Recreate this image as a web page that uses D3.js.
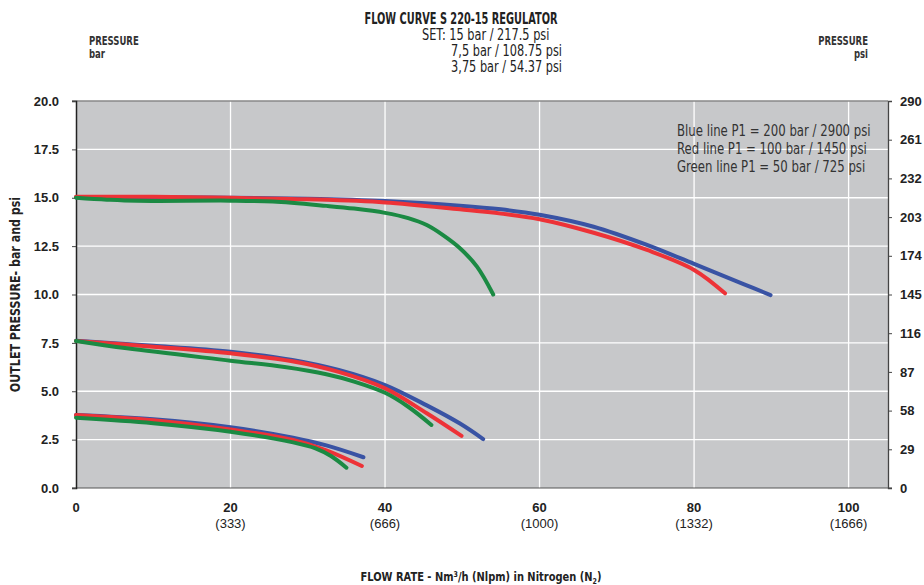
<!DOCTYPE html>
<html>
<head>
<meta charset="utf-8">
<script src="https://cdn.jsdelivr.net/npm/d3@7"></script>
<style>
  body { margin: 0; background: #fff; }
  .cond { font-family: "DejaVu Sans Condensed", "Liberation Sans Narrow", sans-serif; }
  .tick-b { font-family: "Liberation Sans", Arial, sans-serif; font-weight: bold; font-size: 13px; fill: #222; }
  .tick-r { font-family: "Liberation Sans", Arial, sans-serif; font-size: 13px; fill: #222; }
</style>
</head>
<body>
<svg id="chart" width="924" height="585"></svg>
<script>
// flow rate ticks (Nm3/h) and their Nlpm labels
const flowTicks = [0, 20, 40, 60, 80, 100];
const nlpmLabels = ["", "(333)", "(666)", "(1000)", "(1332)", "(1666)"];
const barTicks = [0, 2.5, 5, 7.5, 10, 12.5, 15, 17.5, 20];
const psiTicks = [0, 29, 58, 87, 116, 145, 174, 203, 232, 261, 290];

// curves: [flow, outlet bar]
const blue15 = [[0, 15.02], [10, 15.03], [20, 15.0], [30, 14.95], [40, 14.83], [49.7, 14.59], [55, 14.4], [60, 14.12], [67, 13.5], [73.9, 12.56], [80, 11.58], [86.4, 10.54], [89.9, 9.97]];
const red15 = [[0, 15.05], [10, 15.05], [20, 15.0], [30, 14.92], [40, 14.76], [49.7, 14.4], [55, 14.18], [60, 13.89], [67, 13.19], [73.9, 12.3], [80, 11.27], [84, 10.06]];
const green15 = [[0, 15.0], [4, 14.9], [7.9, 14.84], [20, 14.85], [25.5, 14.8], [32.4, 14.58], [36, 14.44], [40, 14.22], [43, 13.95], [45.4, 13.59], [47.5, 13.07], [49.7, 12.39], [51.9, 11.44], [54, 10.0]];

const blue75 = [[0, 7.61], [10, 7.35], [20, 7.04], [28, 6.62], [34, 6.1], [40, 5.32], [45.4, 4.27], [49.7, 3.33], [52.7, 2.53]];
const red75 = [[0, 7.6], [10, 7.3], [20, 6.96], [28, 6.55], [34, 6.0], [40, 5.15], [45.4, 3.86], [49.9, 2.69]];
const green75 = [[0, 7.6], [6.6, 7.22], [20, 6.58], [27, 6.25], [32.4, 5.88], [36, 5.5], [40, 4.92], [43, 4.2], [46, 3.26]];

const blue375 = [[0, 3.77], [10, 3.55], [20, 3.14], [28.1, 2.6], [32.4, 2.2], [37.2, 1.59]];
const red375 = [[0, 3.77], [10, 3.5], [20, 3.03], [28.1, 2.48], [32.4, 1.95], [37, 1.14]];
const green375 = [[0, 3.63], [10, 3.35], [20, 2.91], [28.1, 2.36], [31, 2.05], [33, 1.65], [35, 1.05]];

const legendLines = ["Blue line P1 = 200 bar / 2900 psi", "Red line P1 = 100 bar / 1450 psi", "Green line P1 = 50 bar / 725 psi"];
const setLines = ["SET: 15 bar / 217.5 psi", "7,5 bar / 108.75 psi", "3,75 bar / 54.37 psi"];

const colors = { blue: "#3953a4", red: "#ed3237", green: "#1b8a43" };

const svg = d3.select("#chart");
const margin = { top: 101, left: 76, right: 36, bottom: 97 };
const W = 924, H = 585;
const innerW = W - margin.left - margin.right;
const innerH = H - margin.top - margin.bottom;

const x = d3.scaleLinear().domain([0, 105.1]).range([margin.left, margin.left + innerW]);
const y = d3.scaleLinear().domain([0, 20]).range([margin.top + innerH, margin.top]);

// narrow text: squeeze a regular font horizontally
function condText(parent, tx, ty, txt, size, opts = {}) {
  const t = parent.append("text")
    .attr("class", "cond")
    .attr("transform", `translate(${tx},${ty}) ${opts.rotate ? "rotate(" + opts.rotate + ")" : ""} scale(${opts.sx || 0.8},1)`)
    .attr("text-anchor", opts.anchor || "start")
    .attr("font-size", size)
    .attr("font-weight", opts.bold ? "bold" : "normal")
    .attr("fill", opts.fill || "#222");
  if (txt != null) t.text(txt);
  return t;
}

// plot background
svg.append("rect")
  .attr("x", x(0)).attr("y", y(20))
  .attr("width", innerW).attr("height", innerH)
  .attr("fill", "#c7c8ca");

// grid
svg.append("g")
  .selectAll("line")
  .data(barTicks.filter(d => d > 0 && d < 20))
  .join("line")
  .attr("x1", x(0)).attr("x2", x.range()[1])
  .attr("y1", d => y(d)).attr("y2", d => y(d))
  .attr("stroke", "#fff").attr("stroke-width", 1.3);

svg.append("g")
  .selectAll("line")
  .data(flowTicks.filter(d => d > 0))
  .join("line")
  .attr("x1", d => x(d)).attr("x2", d => x(d))
  .attr("y1", y(0)).attr("y2", y(20))
  .attr("stroke", "#fff").attr("stroke-width", 1.3);

// top border line
svg.append("line")
  .attr("x1", x(0) - 4).attr("x2", x.range()[1])
  .attr("y1", y(20)).attr("y2", y(20))
  .attr("stroke", "#888").attr("stroke-width", 1.5);

// bottom axis line
svg.append("line")
  .attr("x1", x(0) - 4).attr("x2", x.range()[1] + 4)
  .attr("y1", y(0)).attr("y2", y(0))
  .attr("stroke", "#555").attr("stroke-width", 1.2);

// left axis
const leftAxis = svg.append("g")
  .attr("transform", `translate(${x(0)},0)`)
  .call(d3.axisLeft(y).tickValues(barTicks).tickFormat(d3.format(".1f")).tickSize(4).tickPadding(13));
leftAxis.select(".domain").attr("stroke", "#222").attr("stroke-width", 1.5);
leftAxis.selectAll(".tick line").attr("stroke", "#444");
leftAxis.selectAll("text").attr("class", "tick-b").attr("font-family", null).attr("font-size", null);

// right axis (psi)
const psiScale = d3.scaleLinear().domain([0, 290]).range(y.range());
const rightAxis = svg.append("g")
  .attr("transform", `translate(${x.range()[1]},0)`)
  .call(d3.axisRight(psiScale).tickValues(psiTicks).tickFormat(d3.format("d")).tickSize(4).tickPadding(8));
rightAxis.select(".domain").attr("stroke", "#444").attr("stroke-width", 1.3);
rightAxis.selectAll(".tick line").attr("stroke", "#444");
rightAxis.selectAll("text").attr("class", "tick-b").attr("font-family", null).attr("font-size", null);

// bottom tick labels
const xl = svg.append("g");
xl.selectAll("text.flow")
  .data(flowTicks)
  .join("text")
  .attr("class", "tick-b")
  .attr("x", d => x(d)).attr("y", y(0) + 24)
  .attr("text-anchor", "middle")
  .text(d => d);
xl.selectAll("text.nlpm")
  .data(flowTicks)
  .join("text")
  .attr("class", "tick-r")
  .attr("x", d => x(d)).attr("y", y(0) + 40)
  .attr("text-anchor", "middle")
  .text((d, i) => nlpmLabels[i]);

// curves
const line = d3.line().x(d => x(d[0])).y(d => y(d[1])).curve(d3.curveCatmullRom.alpha(0.5));
const series = [
  [blue15, colors.blue], [red15, colors.red], [green15, colors.green],
  [blue75, colors.blue], [red75, colors.red], [green75, colors.green],
  [blue375, colors.blue], [red375, colors.red], [green375, colors.green]
];
svg.append("g")
  .selectAll("path")
  .data(series)
  .join("path")
  .attr("d", d => line(d[0]))
  .attr("fill", "none")
  .attr("stroke", d => d[1])
  .attr("stroke-width", 4)
  .attr("stroke-linecap", "round");

// legend text
legendLines.forEach((t, i) => condText(svg, 677, 136 + i * 18, t, 16.5, { sx: 0.79, fill: "#333" }));

// title block
condText(svg, 461, 23.5, "FLOW CURVE S 220-15 REGULATOR", 16, { anchor: "middle", bold: true, sx: 0.68 });
setLines.forEach((t, i) =>
  condText(svg, i === 0 ? 422 : 562, 40 + i * 16, t, 15, { anchor: i === 0 ? "start" : "end", sx: 0.84 }));

// corner axis captions
condText(svg, 89, 45, "PRESSURE", 12, { bold: true, sx: 0.79, fill: "#333" });
condText(svg, 89, 58, "bar", 12, { bold: true, sx: 0.79, fill: "#333" });
condText(svg, 868, 45, "PRESSURE", 12, { anchor: "end", bold: true, sx: 0.79, fill: "#333" });
condText(svg, 868, 58, "psi", 12, { anchor: "end", bold: true, sx: 0.79, fill: "#333" });

// y title
condText(svg, 20, (y(0) + y(20)) / 2, "OUTLET PRESSURE- bar and psi", 14, { anchor: "middle", bold: true, sx: 0.88, rotate: -90 });

// x title
const xt = condText(svg, 481, 581, null, 12.5, { anchor: "middle", bold: true, sx: 0.88 });
xt.append("tspan").text("FLOW RATE - Nm");
xt.append("tspan").attr("dy", -4).attr("font-size", 8).text("3");
xt.append("tspan").attr("dy", 4).text("/h (Nlpm) in Nitrogen (N");
xt.append("tspan").attr("dy", 3).attr("font-size", 8).text("2");
xt.append("tspan").attr("dy", -3).text(")");
</script>
</body>
</html>
